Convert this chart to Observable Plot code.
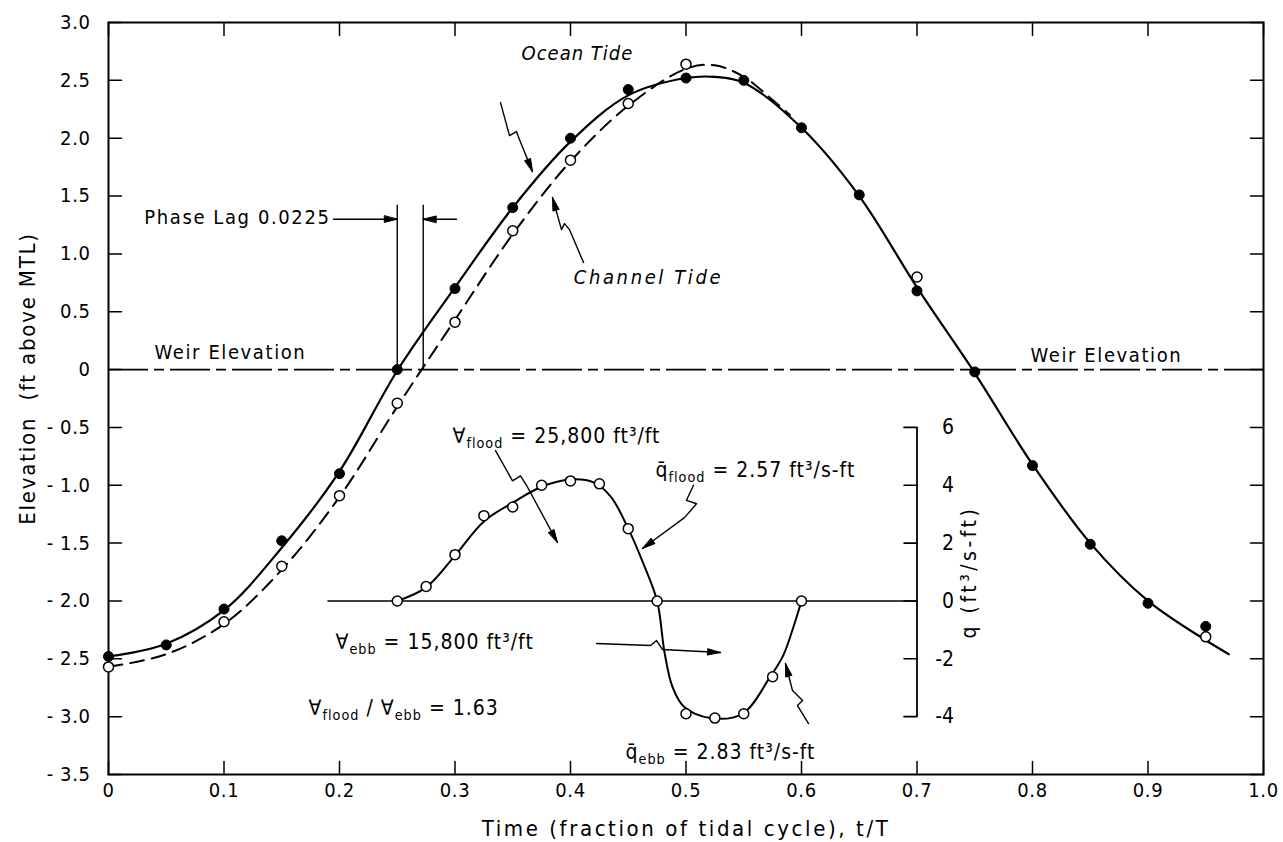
<!DOCTYPE html>
<html><head><meta charset="utf-8">
<script src="https://cdn.jsdelivr.net/npm/d3@7"></script>
<script src="https://cdn.jsdelivr.net/npm/@observablehq/plot@0.6"></script>
<style>
html,body{margin:0;padding:0;background:#fff;}
#chart svg{display:block;}
.sp1 text{letter-spacing:1.6px;}
.sp2 text{letter-spacing:2px;}
.sp05 text{letter-spacing:1px;}
.spx text{letter-spacing:2.6px;}
.spy text{letter-spacing:1.8px;}
.spq text{letter-spacing:3.5px;}
.spt text{letter-spacing:0.6px;}
</style></head><body><div id="chart"></div>
<script>
// ---------- data ----------
const xTicks = [0, 0.1, 0.2, 0.3, 0.4, 0.5, 0.6, 0.7, 0.8, 0.9, 1.0];
const yTicks = [-3.5, -3.0, -2.5, -2.0, -1.5, -1.0, -0.5, 0, 0.5, 1.0, 1.5, 2.0, 2.5, 3.0];
const qTicks = [-4, -2, 0, 2, 4, 6];

// observed ocean tide (filled dots)
const oceanObsT = [0, 0.05, 0.1, 0.15, 0.2, 0.25, 0.3, 0.35, 0.4, 0.45, 0.5, 0.55, 0.6, 0.65, 0.7, 0.75, 0.8, 0.85, 0.9, 0.95];
const oceanObsE = [-2.48, -2.38, -2.07, -1.48, -0.9, 0, 0.7, 1.4, 2.0, 2.42, 2.52, 2.5, 2.09, 1.51, 0.68, -0.02, -0.83, -1.51, -2.02, -2.22];
// observed channel tide (open dots)
const channelObsT = [0, 0.1, 0.15, 0.2, 0.25, 0.3, 0.35, 0.4, 0.45, 0.5, 0.7, 0.95];
const channelObsE = [-2.57, -2.18, -1.7, -1.09, -0.29, 0.41, 1.2, 1.81, 2.3, 2.64, 0.8, -2.31];

// fitted ocean tide curve (solid)
const oceanCurveT = [0, 0.05, 0.1, 0.15, 0.2, 0.25, 0.3, 0.35, 0.4, 0.45, 0.5, 0.525, 0.55, 0.6, 0.65, 0.7, 0.75, 0.8, 0.85, 0.9, 0.95, 0.97];
const oceanCurveE = [-2.48, -2.37, -2.08, -1.54, -0.88, -0.01, 0.71, 1.4, 1.97, 2.37, 2.52, 2.53, 2.48, 2.09, 1.5, 0.71, -0.03, -0.82, -1.5, -2.0, -2.34, -2.46];
// fitted channel tide curve (dashed)
const channelCurveT = [0, 0.05, 0.1, 0.15, 0.2, 0.25, 0.3, 0.35, 0.4, 0.45, 0.5, 0.525, 0.55, 0.575, 0.59];
const channelCurveE = [-2.57, -2.46, -2.2, -1.73, -1.1, -0.32, 0.43, 1.17, 1.8, 2.28, 2.6, 2.63, 2.53, 2.33, 2.2];

// inset: weir discharge q (ft3/s-ft)
const qObsT = [0.25, 0.275, 0.3, 0.325, 0.35, 0.375, 0.4, 0.425, 0.45, 0.475, 0.5, 0.525, 0.55, 0.575, 0.6];
const qObsQ = [0, 0.5, 1.6, 2.95, 3.25, 4.0, 4.15, 4.05, 2.5, 0, -3.9, -4.05, -3.9, -2.62, 0];
const qCurveT = [0.25, 0.275, 0.3, 0.325, 0.35, 0.375, 0.4, 0.42, 0.435, 0.45, 0.463, 0.475, 0.4815, 0.4883, 0.4983, 0.5212, 0.5489, 0.5723, 0.584, 0.593, 0.6];
const qCurveQ = [0, 0.47, 1.57, 2.75, 3.4, 3.95, 4.2, 4.1, 3.6, 2.5, 1.3, 0, -1.8, -2.97, -3.66, -4.05, -3.9, -2.66, -1.9, -0.9, 0];
const qAxisT = 0.7;            // time at which the q axis stands
const qBaseStart = 0.19;       // start of the q = 0 line
const qZeroElev = -2.0;        // q = 0 sits on elevation -2.0
const qPerElev = 4;            // 4 q units per ft of elevation
const qE = q => qZeroElev + q / qPerElev;

const weirElevation = 0;
const phaseStart = 0.25, phaseLag = 0.0225, phaseTop = 1.42, phaseArrowE = 1.3;

// annotation leader paths [t, elevation]
const oceanTideArrow   = [[0.3394, 2.308], [0.3472, 2.022], [0.3532, 2.057], [0.3558, 1.988], [0.3671, 1.711]];
const channelTideArrow = [[0.4113, 0.925], [0.3991, 1.210], [0.3948, 1.262], [0.3922, 1.210], [0.3844, 1.487]];
const phaseLeftArrow   = [[0.1948, phaseArrowE], [phaseStart, phaseArrowE]];
const phaseRightArrow  = [[0.3013, phaseArrowE], [phaseStart + phaseLag, phaseArrowE]];
const floodArrow       = [[0.3351, -0.70], [0.3498, -0.962], [0.3567, -0.919], [0.3619, -1.0], [0.3887, -1.495]];
const qFloodArrow      = [[0.5065, -1.0], [0.5004, -1.13], [0.5091, -1.16], [0.4987, -1.28], [0.4623, -1.547]];
const ebbArrow         = [[0.4225, -2.368], [0.4693, -2.385], [0.4745, -2.342], [0.4797, -2.420], [0.5299, -2.446]];
const qEbbArrow        = [[0.6061, -3.060], [0.5965, -2.904], [0.6009, -2.861], [0.5922, -2.774], [0.5861, -2.541]];
const leaderPaths = [oceanTideArrow, channelTideArrow, phaseLeftArrow, phaseRightArrow, floodArrow, qFloodArrow, ebbArrow, qEbbArrow];

// text labels
const xTitle = "Time (fraction of tidal cycle), t/T";
const yTitle = "Elevation  (ft above MTL)";
const qTitle = "q (ft³/s-ft)";
const oceanLabel = [{t: 0.406, e: 2.731, s: "Ocean Tide"}];
const channelLabel = [{t: 0.4675, e: 0.795, s: "Channel Tide"}];
const weirLabels = [{t: 0.1056, e: 0.15, s: "Weir Elevation"}, {t: 0.864, e: 0.125, s: "Weir Elevation"}];
const phaseLabel = [{t: 0.1922, e: 1.31, s: "Phase Lag 0.0225"}];
const insetLabels = [
  {t: 0.2978, e: -0.58, s: "∀_{flood} = 25,800 ft³/ft"},
  {t: 0.4736, e: -0.87, s: "q̄_{flood} = 2.57 ft³/s-ft"},
  {t: 0.1965, e: -2.36, s: "∀_{ebb} = 15,800 ft³/ft"},
  {t: 0.1732, e: -2.93, s: "∀_{flood} / ∀_{ebb} = 1.63"},
  {t: 0.4476, e: -3.31, s: "q̄_{ebb} = 2.83 ft³/s-ft"}
];

// ---------- layout ----------
const W = 1283, H = 842, ML = 108, MR = 20, MT = 22, MB = 68;
const FONT = '"DejaVu Sans Condensed", "DejaVu Sans", sans-serif';
const kx = (W - ML - MR), ky = (H - MT - MB) / 6.5;
const headAngle = p => { const [a, b] = p.slice(-2); return Math.atan2((b[0] - a[0]) * kx, (b[1] - a[1]) * ky) * 180 / Math.PI; };
const tickShape = {draw(ctx, l) { ctx.moveTo(0, 0); ctx.lineTo(0, -l); }};
const headShape = {draw(ctx, l) { ctx.moveTo(0, -l); ctx.lineTo(3.2, 0); ctx.lineTo(-3.2, 0); ctx.closePath(); }};
const fmtX = d => d === 0 ? "0" : d.toFixed(1);
const fmtY = d => d === 0 ? "0" : d < 0 ? "- " + (-d).toFixed(1) : d.toFixed(1);
const fmtQ = d => d < 0 ? "-" + (-d) : String(d);
const zipP = (a, b) => a.map((v, i) => [v, b[i]]);
const px = d => d[0], py = d => d[1];
const TL = 13;

const chart = Plot.plot({
  width: W, height: H, marginLeft: ML, marginRight: MR, marginTop: MT, marginBottom: MB,
  x: {domain: [0, 1]},
  y: {domain: [-3.5, 3]},
  style: {fontFamily: FONT, fontSize: "17px", color: "black", background: "white"},
  marks: [
    Plot.axisX(xTicks, {tickSize: 0, tickPadding: 8, tickFormat: fmtX, fontSize: 20, label: null, className: "spt"}),
    Plot.axisY(yTicks, {tickSize: 0, tickPadding: 18, tickFormat: fmtY, fontSize: 20, label: null, className: "spt"}),
    Plot.frame({strokeWidth: 2}),
    // inward ticks on all four sides
    Plot.vector(yTicks, {x: () => 0, y: d => d, length: TL, rotate: 90, anchor: "start", shape: tickShape, strokeWidth: 1.5}),
    Plot.vector(yTicks, {x: () => 1, y: d => d, length: TL, rotate: 270, anchor: "start", shape: tickShape, strokeWidth: 1.5}),
    Plot.vector(xTicks, {x: d => d, y: () => -3.5, length: TL, rotate: 0, anchor: "start", shape: tickShape, strokeWidth: 1.5}),
    Plot.vector(xTicks, {x: d => d, y: () => 3, length: TL, rotate: 180, anchor: "start", shape: tickShape, strokeWidth: 1.5}),
    // weir line
    Plot.ruleY([weirElevation], {strokeDasharray: "40,6,10,6", strokeWidth: 1.6}),
    // phase lag
    Plot.ruleX([phaseStart, phaseStart + phaseLag], {y1: () => weirElevation, y2: () => phaseTop, strokeWidth: 1.4}),
    // tide curves
    Plot.line(zipP(channelCurveT, channelCurveE), {x: px, y: py, curve: "catmull-rom", strokeWidth: 2, strokeDasharray: "14,8"}),
    Plot.line(zipP(oceanCurveT, oceanCurveE), {x: px, y: py, curve: "catmull-rom", strokeWidth: 2.2}),
    // inset q plot
    Plot.ruleY([qE(0)], {x1: () => qBaseStart, x2: () => qAxisT, strokeWidth: 1.6}),
    Plot.ruleX([qAxisT], {y1: () => qE(qTicks[0]), y2: () => qE(qTicks[qTicks.length - 1]), strokeWidth: 1.8}),
    Plot.vector(qTicks, {x: () => qAxisT, y: d => qE(d), length: TL, rotate: 270, anchor: "start", shape: tickShape, strokeWidth: 1.6}),
    Plot.text(qTicks, {x: () => qAxisT, y: d => qE(d), text: fmtQ, dx: 37, textAnchor: "end", fontSize: 21}),
    Plot.text([qTitle], {x: () => qAxisT, y: () => qE(1), text: d => d, rotate: -90, dx: 52, fontSize: 21, textAnchor: "middle", className: "spq"}),
    Plot.line(zipP(qCurveT, qCurveQ), {x: px, y: d => qE(d[1]), curve: "catmull-rom", strokeWidth: 2}),
    Plot.dot(zipP(qObsT, qObsQ), {x: px, y: d => qE(d[1]), r: 5, fill: "white", stroke: "black", strokeWidth: 1.5}),
    // tide observations
    Plot.dot(zipP(channelObsT, channelObsE), {x: px, y: py, r: 5, fill: "white", stroke: "black", strokeWidth: 1.5}),
    Plot.dot(zipP(oceanObsT, oceanObsE), {x: px, y: py, r: 5, fill: "black", stroke: "black", strokeWidth: 1}),
    // leaders with arrow heads
    ...leaderPaths.map(p => Plot.line(p, {x: px, y: py, curve: "linear", strokeWidth: 1.4})),
    Plot.vector(leaderPaths, {x: p => p[p.length - 1][0], y: p => p[p.length - 1][1], rotate: headAngle, length: 13, anchor: "end", shape: headShape, fill: "black", stroke: "black", strokeWidth: 1}),
    // labels
    Plot.text(oceanLabel, {x: "t", y: "e", text: "s", fontSize: 20, fontStyle: "italic", className: "sp05"}),
    Plot.text(channelLabel, {x: "t", y: "e", text: "s", fontSize: 20, fontStyle: "italic", className: "spx"}),
    Plot.text(weirLabels, {x: "t", y: "e", text: "s", fontSize: 20, className: "sp1"}),
    Plot.text(phaseLabel, {x: "t", y: "e", text: "s", fontSize: 20, textAnchor: "end", className: "sp1"}),
    Plot.text(insetLabels, {x: "t", y: "e", text: "s", fontSize: 21, textAnchor: "start", className: "sp05"}),
    Plot.text([xTitle], {frameAnchor: "bottom", text: d => d, dy: 54, fontSize: 22, textAnchor: "middle", lineAnchor: "middle", className: "spx"}),
    Plot.text([yTitle], {frameAnchor: "left", text: d => d, dx: -81, dy: -20, rotate: -90, fontSize: 22, textAnchor: "middle", lineAnchor: "middle", className: "spy"})
  ]
});

// turn _{..} into subscripts
d3.select(chart).selectAll("text").each(function () {
  const s = this.textContent;
  if (!/_\{/.test(s)) return;
  const el = d3.select(this);
  el.text(null);
  for (const p of s.split(/(_\{[^}]*\})/)) {
    if (!p) continue;
    const m = p.match(/^_\{(.*)\}$/);
    if (m) el.append("tspan").style("font-size", "0.68em").attr("baseline-shift", "-5").text(m[1]);
    else el.append("tspan").text(p);
  }
});

document.getElementById("chart").appendChild(chart);
</script></body></html>
